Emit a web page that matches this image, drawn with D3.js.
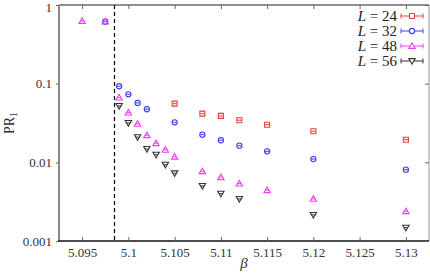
<!DOCTYPE html>
<html>
<head>
<meta charset="utf-8">
<script src="https://cdn.jsdelivr.net/npm/d3@7"></script>
<style>
  body { margin: 0; background: #fff; }
  svg { display: block; }
</style>
</head>
<body>
<svg id="chart" width="430" height="273"></svg>
<script>
// data
var beta24 = [5.105, 5.108, 5.110, 5.112, 5.115, 5.120, 5.130];
var pr24 = [0.0557, 0.0416, 0.0389, 0.0343, 0.0301, 0.0248, 0.0194];

var beta32 = [5.0975, 5.099, 5.100, 5.101, 5.102, 5.105, 5.108, 5.110, 5.112, 5.115, 5.120, 5.130];
var pr32 = [0.614, 0.0927, 0.0733, 0.0569, 0.0473, 0.0323, 0.0225, 0.0191, 0.0163, 0.0138, 0.0110, 0.00807];

var beta48 = [5.095, 5.0975, 5.099, 5.100, 5.101, 5.102, 5.103, 5.104, 5.105, 5.108, 5.110, 5.112, 5.115, 5.120, 5.130];
var pr48 = [0.626, 0.614, 0.0664, 0.0428, 0.0308, 0.0221, 0.0175, 0.0144, 0.0118, 0.00771, 0.00647, 0.00536, 0.00442, 0.00343, 0.00239];

var beta56 = [5.099, 5.100, 5.101, 5.102, 5.103, 5.104, 5.105, 5.108, 5.110, 5.112, 5.120, 5.130];
var pr56 = [0.0521, 0.0317, 0.0209, 0.0148, 0.0125, 0.00935, 0.00727, 0.00501, 0.00400, 0.00343, 0.00215, 0.00148];

var betaC = 5.0985;
var xTicks = [5.095, 5.1, 5.105, 5.11, 5.115, 5.12, 5.125, 5.13];
var yTicks = [0.001, 0.01, 0.1, 1];

var series = [
    { name: "24", x: beta24, y: pr24, color: "#f03c3c", shape: "square" },
    { name: "32", x: beta32, y: pr32, color: "#3c3cf0", shape: "circle" },
    { name: "48", x: beta48, y: pr48, color: "#f03cf0", shape: "up" },
    { name: "56", x: beta56, y: pr56, color: "#333333", shape: "down" }
];

var serif = '"Liberation Serif", "DejaVu Serif", serif';
var svg = d3.select("#chart");
var plotL = 59, plotR = 429, plotT = 5, plotB = 241;

var x = d3.scaleLinear().domain([5.0925, 5.1325]).range([plotL, plotR]);
var y = d3.scaleLog().domain([0.001, 1]).range([plotB, plotT]);

// marker path for a shape, centred on 0,0
function marker(shape) {
    if (shape == "square") return "M-2.5,-2.5H2.5V2.5H-2.5Z";
    if (shape == "circle") return "M-2.6,0A2.6,2.6 0 1,0 2.6,0A2.6,2.6 0 1,0 -2.6,0";
    if (shape == "up") return "M0,-3.2L3.2,2.4H-3.2Z";
    return "M0,3.2L3.2,-2.4H-3.2Z";
}

// dashed line at beta_c
svg.append("line")
    .attr("x1", x(betaC)).attr("x2", x(betaC))
    .attr("y1", plotT).attr("y2", plotB)
    .attr("stroke", "#000")
    .attr("stroke-width", 1.2)
    .attr("stroke-dasharray", "4,3");

// frame
svg.append("line").attr("x1", plotL).attr("x2", plotR).attr("y1", plotT).attr("y2", plotT)
    .attr("stroke", "#222").attr("stroke-width", 1);
svg.append("line").attr("x1", plotR).attr("x2", plotR).attr("y1", plotT).attr("y2", plotB)
    .attr("stroke", "#999").attr("stroke-width", 1);
svg.append("line").attr("x1", plotL).attr("x2", plotL).attr("y1", plotT).attr("y2", plotB)
    .attr("stroke", "#888").attr("stroke-width", 2);
svg.append("line").attr("x1", plotL - 1).attr("x2", plotR).attr("y1", plotB).attr("y2", plotB)
    .attr("stroke", "#111").attr("stroke-width", 1.5);

// x ticks, bottom and top, pointing inward
var xAxis = svg.append("g").attr("transform", "translate(0," + plotB + ")")
    .call(d3.axisBottom(x).tickValues(xTicks).tickSizeInner(-4).tickSizeOuter(0).tickPadding(7)
        .tickFormat(d3.format("")));
xAxis.attr("font-family", serif);
xAxis.select(".domain").remove();
xAxis.selectAll("line").attr("stroke", "#666");
xAxis.selectAll("text").style("font-size", "13px").style("font-family", serif).attr("fill", "#333");

var xTop = svg.append("g").attr("transform", "translate(0," + plotT + ")")
    .call(d3.axisTop(x).tickValues(xTicks).tickSizeInner(-4).tickSizeOuter(0).tickFormat(""));
xTop.select(".domain").remove();
xTop.selectAll("line").attr("stroke", "#666");

// y ticks
var yAxis = svg.append("g").attr("transform", "translate(" + plotL + ",0)")
    .call(d3.axisLeft(y).tickValues(yTicks).tickSize(3).tickPadding(4)
        .tickFormat(d => d3.format("")(d)));
yAxis.attr("font-family", serif);
yAxis.select(".domain").remove();
yAxis.selectAll("line").attr("stroke", "#666");
yAxis.selectAll("text").style("font-size", "13px").style("font-family", serif).attr("fill", "#333");
// top label sits right at the edge, nudge it down a bit
yAxis.selectAll("text").filter(d => d == 1).attr("dy", "0.5em");

var yRight = svg.append("g").attr("transform", "translate(" + plotR + ",0)")
    .call(d3.axisRight(y).tickValues(yTicks).tickSize(-4).tickFormat(""));
yRight.select(".domain").remove();
yRight.selectAll("line").attr("stroke", "#666");

// axis titles
svg.append("text")
    .attr("transform", "translate(14," + ((plotT + plotB) / 2) + ") rotate(-90)")
    .attr("text-anchor", "middle")
    .style("font-size", "14px")
    .style("font-family", serif)
    .attr("fill", "#333")
    .html('PR<tspan dy="3" font-size="10px">1</tspan>');

svg.append("text")
    .attr("x", (plotL + plotR) / 2)
    .attr("y", 268)
    .attr("text-anchor", "middle")
    .style("font-size", "15px")
    .style("font-style", "italic")
    .style("font-family", serif)
    .attr("fill", "#333")
    .text("β");

// data points
series.forEach(s => {
    var g = svg.append("g");
    var pts = s.x.map((v, i) => [v, s.y[i]]);
    g.selectAll("path")
        .data(pts)
        .enter()
        .append("path")
        .attr("transform", d => "translate(" + x(d[0]) + "," + y(d[1]) + ")")
        .attr("d", marker(s.shape))
        .attr("fill", "none")
        .attr("stroke", s.color)
        .attr("stroke-width", 1.1);
    // tiny error bars show as a short bar through the marker
    g.selectAll("line")
        .data(pts)
        .enter()
        .append("line")
        .attr("x1", d => x(d[0]) - 2)
        .attr("x2", d => x(d[0]) + 2)
        .attr("y1", d => y(d[1]))
        .attr("y2", d => y(d[1]))
        .attr("stroke", s.color)
        .attr("stroke-width", 1);
});

// legend
var legend = svg.append("g");
series.forEach((s, i) => {
    var ly = 16 + i * 15;
    var t = legend.append("text")
        .attr("x", 397)
        .attr("y", ly + 5)
        .attr("text-anchor", "end")
        .style("font-size", "15px")
        .style("font-family", serif)
        .attr("fill", "#222");
    t.append("tspan").style("font-style", "italic").text("L");
    t.append("tspan").text(" = " + s.name);
    legend.append("line")
        .attr("x1", 401).attr("x2", 423).attr("y1", ly).attr("y2", ly)
        .attr("stroke", s.color).attr("stroke-width", 1);
    legend.append("line")
        .attr("x1", 401).attr("x2", 401).attr("y1", ly - 2.5).attr("y2", ly + 2.5)
        .attr("stroke", s.color).attr("stroke-width", 1);
    legend.append("line")
        .attr("x1", 423).attr("x2", 423).attr("y1", ly - 2.5).attr("y2", ly + 2.5)
        .attr("stroke", s.color).attr("stroke-width", 1);
    legend.append("path")
        .attr("transform", "translate(412," + ly + ")")
        .attr("d", marker(s.shape))
        .attr("fill", "#fff")
        .attr("stroke", s.color)
        .attr("stroke-width", 1.1);
});
</script>
</body>
</html>
